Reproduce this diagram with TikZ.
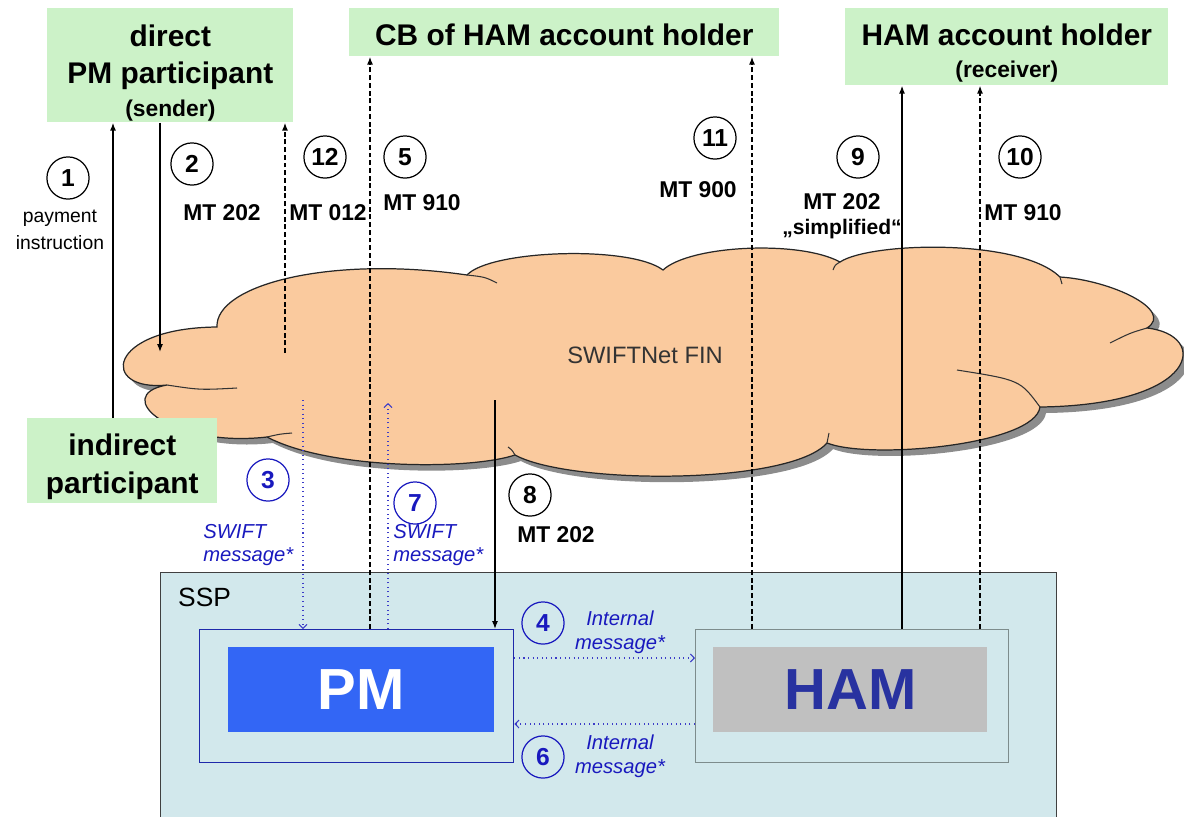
\documentclass[tikz,border=0pt]{standalone}
\usepackage{fontspec}
\setmainfont{Liberation Sans}
\usetikzlibrary{arrows.meta}

\definecolor{boxgreen}{RGB}{204,242,200}
\definecolor{cloudfill}{RGB}{250,202,158}
\definecolor{sspfill}{RGB}{210,232,236}
\definecolor{pmblue}{RGB}{51,102,245}
\definecolor{pmframe}{RGB}{30,40,170}
\definecolor{msgblue}{RGB}{25,25,190}
\definecolor{hamgray}{RGB}{192,192,192}
\definecolor{hamframe}{RGB}{125,140,140}
\definecolor{hamtext}{RGB}{40,50,160}

\newcommand{\swiftcloud}{(167,385) .. controls (100,392) and (105,328) .. (217,327)
	.. controls (215,285) and (330,255) .. (467,275)
	.. controls (490,250) and (630,245) .. (663,270)
	.. controls (690,245) and (800,240) .. (840,262)
	.. controls (870,242) and (1020,238) .. (1060,277)
	.. controls (1110,280) and (1175,310) .. (1147,328)
	.. controls (1210,335) and (1200,405) .. (1040,407)
	.. controls (1035,445) and (870,460) .. (827,443)
	.. controls (790,485) and (570,485) .. (515,455)
	.. controls (470,470) and (330,470) .. (267,437)
	.. controls (170,448) and (110,395) .. (167,385) -- cycle}

\begin{document}
\begin{tikzpicture}
	[x=0.02cm, y=-0.02cm,
	party/.style = {fill=boxgreen, align=center, anchor=north west, inner sep=0pt, font=\bfseries\fontsize{17}{21.5}\selectfont},
	stepnum/.style = {draw, circle, minimum size=24pt, inner sep=0pt, line width=0.7pt, font=\bfseries\fontsize{14}{14}\selectfont},
	bluenum/.style = {stepnum, draw=msgblue, text=msgblue},
	mt/.style = {font=\bfseries\fontsize{13}{14.5}\selectfont, align=center, inner sep=0pt},
	swiftmsg/.style = {text=msgblue, font=\itshape\fontsize{11.5}{13.5}\selectfont, inner sep=0pt},
	crease/.style = {line width=0.6pt, black!80},
	msgline/.style = {line width=0.7pt, -{Latex[length=4.5pt,width=3.4pt]}},
	dashline/.style = {msgline, dash pattern=on 2.8pt off 1.6pt},
	dotline/.style = {draw=msgblue!85, line width=0.6pt, dotted, -{Straight Barb[length=2.2pt,width=4.5pt]}}]
	\useasboundingbox (0,0) rectangle (1184,816);
	\clip (0,0) rectangle (1184,816);

	\node[party, minimum width=4.92cm, minimum height=2.28cm] (direct) at (47,8) {\rule{0pt}{21pt}direct\\PM participant\\[-2.7pt]{\fontsize{13}{19}\selectfont (sender)}};
	\node[party, minimum width=8.6cm, minimum height=0.96cm] (cb) at (349,8) {\rule{0pt}{14.7pt}CB of HAM account holder};
	\node[party, minimum width=6.46cm, minimum height=1.54cm] (holder) at (845,8) {\rule{0pt}{19.2pt}HAM account holder\\[-3.4pt]{\fontsize{13}{19}\selectfont (receiver)}};

	\fill[black!45, shift={(6,6)}] \swiftcloud;
	\filldraw[fill=cloudfill, draw=black!85, line width=0.7pt] \swiftcloud;
	\draw[crease] (167,385) .. controls (200,390) .. (237,388);
	\draw[crease] (267,437) .. controls (280,434) .. (292,433);
	\draw[crease] (467,275) .. controls (485,277) .. (497,283);
	\draw[crease] (840,262) .. controls (835,265) .. (833,270);
	\draw[crease] (1060,277) -- (1062,284);
	\draw[crease] (1147,328) .. controls (1130,333) .. (1110,343);
	\draw[crease] (1040,407) .. controls (1020,380) .. (957,370);
	\draw[crease] (827,443) -- (829,433);
	\draw[crease] (515,455) .. controls (512,450) .. (508,447);
	\node[font=\fontsize{13.5}{16}\selectfont, text=black!80] (fin) at (645,355) {SWIFTNet FIN};

	\node[party, minimum width=3.8cm, minimum height=1.7cm] (indirect) at (27,418) {\rule{0pt}{19.2pt}indirect\\participant};

	\node[fill=sspfill, draw=black!75, line width=0.8pt, anchor=north west, minimum width=17.92cm, minimum height=5.3cm] (ssp) at (160,572) {};
	\node[anchor=west, font=\fontsize{15}{15}\selectfont] (ssplabel) at (172,597) {SSP};
	\node[fill=sspfill, draw=pmframe, line width=0.8pt, anchor=north west, minimum width=6.28cm, minimum height=2.66cm] (pm) at (199,629) {};
	\node[fill=pmblue, anchor=north west, minimum width=5.32cm, minimum height=1.7cm, inner sep=0pt] (pmcore) at (228,647) {};
	\node[text=white, font=\bfseries\fontsize{33}{33}\selectfont] (pmname) at (pmcore.center) {PM};
	\node[fill=sspfill, draw=hamframe, line width=0.8pt, anchor=north west, minimum width=6.26cm, minimum height=2.66cm] (ham) at (695,629) {};
	\node[fill=hamgray, anchor=north west, minimum width=5.48cm, minimum height=1.7cm, inner sep=0pt] (hamcore) at (713,647) {};
	\node[text=hamtext, font=\bfseries\fontsize{33}{33}\selectfont] (hamname) at (hamcore.center) {HAM};

	\coordinate (c1) at (113,0);
	\coordinate (in2) at (160,352);
	\coordinate (out12) at (285,353);
	\coordinate (c5) at (370,0);
	\coordinate (out3) at (303,400);
	\coordinate (in7) at (388,403);
	\coordinate (out8) at (495,400);
	\coordinate (c11) at (752,0);
	\coordinate (c9) at (902,0);
	\coordinate (c10) at (980,0);
	\coordinate (c4) at (0,658);
	\coordinate (c6) at (0,724);

	\draw[msgline] (indirect.north -| c1) -- (direct.south -| c1);
	\draw[msgline] (direct.south -| in2) -- (in2);
	\draw[dashline] (out12) -- (direct.south -| out12);
	\draw[dashline] (pm.north -| c5) -- (cb.south -| c5);
	\draw[dotline] (out3) -- (pm.north -| out3);
	\draw[dotline] (pm.north -| in7) -- (in7);
	\draw[msgline] (out8) -- (pm.north -| out8);
	\draw[dashline] (ham.north -| c11) -- (cb.south -| c11);
	\draw[msgline] (ham.north -| c9) -- (holder.south -| c9);
	\draw[dashline] (ham.north -| c10) -- (holder.south -| c10);
	\draw[dotline] (pm.east |- c4) -- (ham.west |- c4);
	\draw[dotline] (ham.west |- c6) -- (pm.east |- c6);

	\node[stepnum] (s1) at (68,178) {1};
	\node[stepnum] (s2) at (192,164) {2};
	\node[stepnum] (s12) at (325,157) {12};
	\node[stepnum] (s5) at (405,157) {5};
	\node[stepnum] (s11) at (715,138) {11};
	\node[stepnum] (s9) at (858,157) {9};
	\node[stepnum] (s10) at (1020,157) {10};
	\node[stepnum] (s8) at (530,495) {8};
	\node[bluenum] (s3) at (268,480) {3};
	\node[bluenum] (s7) at (415,503) {7};
	\node[bluenum] (s4) at (543,623) {4};
	\node[bluenum] (s6) at (543,757) {6};

	\node[align=center, inner sep=0pt, font=\fontsize{11}{15}\selectfont] (pay) at (60,230) {payment\\instruction};
	\node[mt] (m2) at (222,213) {MT 202};
	\node[mt] (m12) at (328,213) {MT 012};
	\node[mt] (m5) at (422,203) {MT 910};
	\node[mt] (m11) at (698,190) {MT 900};
	\node[mt] (m9) at (842,216) {MT 202\\{\fontsize{12}{14.5}\selectfont „simplified“}};
	\node[mt] (m10) at (1023,213) {MT 910};
	\node[mt] (m8) at (556,535) {MT 202};
	\node[swiftmsg, align=left, anchor=west] (w3) at (203,545) {SWIFT\\message*};
	\node[swiftmsg, align=left, anchor=west] (w7) at (393,545) {SWIFT\\message*};
	\node[swiftmsg, align=center] (i4) at (620,632) {Internal\\message*};
	\node[swiftmsg, align=center] (i6) at (620,756) {Internal\\message*};
\end{tikzpicture}
\end{document}
